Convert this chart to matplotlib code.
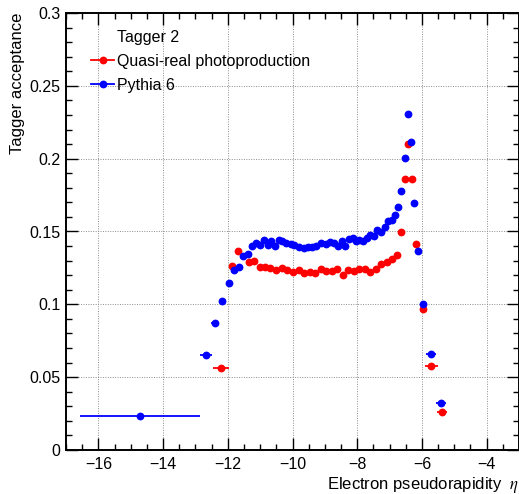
import matplotlib
matplotlib.use('Agg')
import matplotlib.pyplot as plt
from matplotlib.lines import Line2D
from matplotlib.ticker import MultipleLocator, FuncFormatter

plt.rcParams['font.family'] = ['Liberation Sans', 'DejaVu Sans']
plt.rcParams['mathtext.fontset'] = 'stix'

# Pythia 6 (blue)
eta_pythia = [-14.71, -12.67, -12.39, -12.18, -11.97, -11.81, -11.66, -11.52, -11.39, -11.25,
              -11.13, -11.01, -10.89, -10.77, -10.65, -10.54, -10.42, -10.31, -10.19, -10.06,
              -9.94, -9.81, -9.66, -9.53, -9.39, -9.26, -9.11, -8.98, -8.85, -8.72,
              -8.59, -8.48, -8.38, -8.25, -8.14, -8.03, -7.93, -7.81, -7.71, -7.59,
              -7.48, -7.38, -7.25, -7.15, -7.05, -6.94, -6.84, -6.74, -6.64, -6.53,
              -6.44, -6.34, -6.23, -6.12, -5.98, -5.73, -5.42]
acc_pythia = [0.0235, 0.065, 0.087, 0.102, 0.1148, 0.1234, 0.1253, 0.1333, 0.1345, 0.140,
              0.1419, 0.1409, 0.1441, 0.1405, 0.1437, 0.1402, 0.1441, 0.1437, 0.1423, 0.1412,
              0.1405, 0.1395, 0.1384, 0.1391, 0.1395, 0.1402, 0.1419, 0.1412, 0.143, 0.1418,
              0.140, 0.1437, 0.140, 0.1446, 0.1457, 0.1434, 0.1441, 0.1434, 0.1453, 0.1476,
              0.1471, 0.151, 0.1499, 0.153, 0.1573, 0.158, 0.1613, 0.167, 0.1779, 0.2008,
              0.2305, 0.2116, 0.1697, 0.1368, 0.1002, 0.0657, 0.0325]
xerr_pythia = [1.86, 0.18, 0.12, 0.08, 0.07, 0.07, 0.07, 0.07, 0.06, 0.06,
               0.06, 0.06, 0.06, 0.06, 0.06, 0.06, 0.06, 0.06, 0.06, 0.06,
               0.06, 0.06, 0.06, 0.06, 0.06, 0.06, 0.06, 0.06, 0.06, 0.06,
               0.06, 0.06, 0.06, 0.06, 0.06, 0.06, 0.06, 0.06, 0.06, 0.06,
               0.05, 0.05, 0.05, 0.05, 0.05, 0.05, 0.05, 0.05, 0.05, 0.05,
               0.05, 0.05, 0.05, 0.06, 0.08, 0.15, 0.15]

# Quasi-real photoproduction (red)
eta_qr = [-12.21, -11.87, -11.68, -11.35, -11.19, -11.01, -10.84, -10.68, -10.50, -10.32,
          -10.17, -9.98, -9.81, -9.65, -9.47, -9.29, -9.13, -8.95, -8.77, -8.62,
          -8.43, -8.27, -8.10, -7.93, -7.77, -7.61, -7.43, -7.25, -7.09, -6.94,
          -6.78, -6.64, -6.52, -6.43, -6.31, -6.18, -5.98, -5.71, -5.39]
acc_qr = [0.0563, 0.1263, 0.1368, 0.1292, 0.1296, 0.1258, 0.1258, 0.1247, 0.1235, 0.1247,
          0.1235, 0.1224, 0.1235, 0.1213, 0.1224, 0.1213, 0.124, 0.123, 0.1228, 0.124,
          0.1201, 0.1235, 0.1228, 0.1242, 0.1242, 0.1219, 0.1242, 0.1274, 0.1288, 0.1313,
          0.1338, 0.1494, 0.186, 0.2098, 0.186, 0.1412, 0.0966, 0.0577, 0.0259]
xerr_qr = [0.26, 0.09, 0.09, 0.08, 0.08, 0.08, 0.08, 0.08, 0.08, 0.08,
           0.08, 0.08, 0.08, 0.08, 0.08, 0.08, 0.08, 0.08, 0.08, 0.08,
           0.08, 0.08, 0.08, 0.08, 0.08, 0.08, 0.08, 0.08, 0.07, 0.07,
           0.07, 0.06, 0.05, 0.05, 0.05, 0.06, 0.08, 0.2, 0.15]

fig = plt.figure(figsize=(5.19, 4.94), dpi=100)
ax = fig.add_axes([66/519, 44/494, 453/519, 437/494])

ax.errorbar(eta_qr, acc_qr, xerr=xerr_qr, fmt='o', color='#ff0000', ms=4.6,
            elinewidth=1.3, capsize=0, zorder=3)
ax.errorbar(eta_pythia, acc_pythia, xerr=xerr_pythia, fmt='o', color='#0000ff', ms=4.6,
            elinewidth=1.3, capsize=0, zorder=4)

ax.set_xlim(-17, -3)
ax.set_ylim(0, 0.3)
ax.xaxis.set_major_locator(MultipleLocator(2))
ax.xaxis.set_minor_locator(MultipleLocator(0.5))
ax.yaxis.set_major_locator(MultipleLocator(0.05))
ax.yaxis.set_minor_locator(MultipleLocator(0.01))
ax.xaxis.set_major_formatter(FuncFormatter(lambda v, p: ('%g' % v).replace('-', '\u2212')))
ax.yaxis.set_major_formatter(FuncFormatter(lambda v, p: '%g' % round(v, 3)))

ax.tick_params(which='both', direction='in', top=True, right=True, labelsize=11.5, width=1)
ax.tick_params(which='major', length=8.5)
ax.tick_params(which='minor', length=4.3)
ax.tick_params(axis='x', pad=5)
ax.tick_params(axis='y', pad=4)
for s in ax.spines.values():
    s.set_linewidth(1.4)

ax.grid(True, which='major', color='0.55', linestyle=(0, (1, 1.5)), linewidth=0.7)
ax.set_axisbelow(True)

ax.set_xlabel('Electron pseudorapidity  $\\eta$', loc='right', fontsize=12, labelpad=2)
ax.set_ylabel('Tagger acceptance', loc='top', fontsize=12, labelpad=3)

handles = [Line2D([], [], linestyle='none'),
           Line2D([], [], color='#ff0000', marker='o', ms=4.6, lw=1.3),
           Line2D([], [], color='#0000ff', marker='o', ms=4.6, lw=1.3)]
labels = ['Tagger 2', 'Quasi-real photoproduction', 'Pythia 6']
ax.legend(handles, labels, loc='upper left', bbox_to_anchor=(91/519, 1 - 30/494),
          bbox_transform=fig.transFigure, frameon=False, fontsize=11.5,
          handlelength=1.45, handletextpad=0.2, labelspacing=0.56,
          borderpad=0, borderaxespad=0)

fig.savefig('out.png', dpi=100)
